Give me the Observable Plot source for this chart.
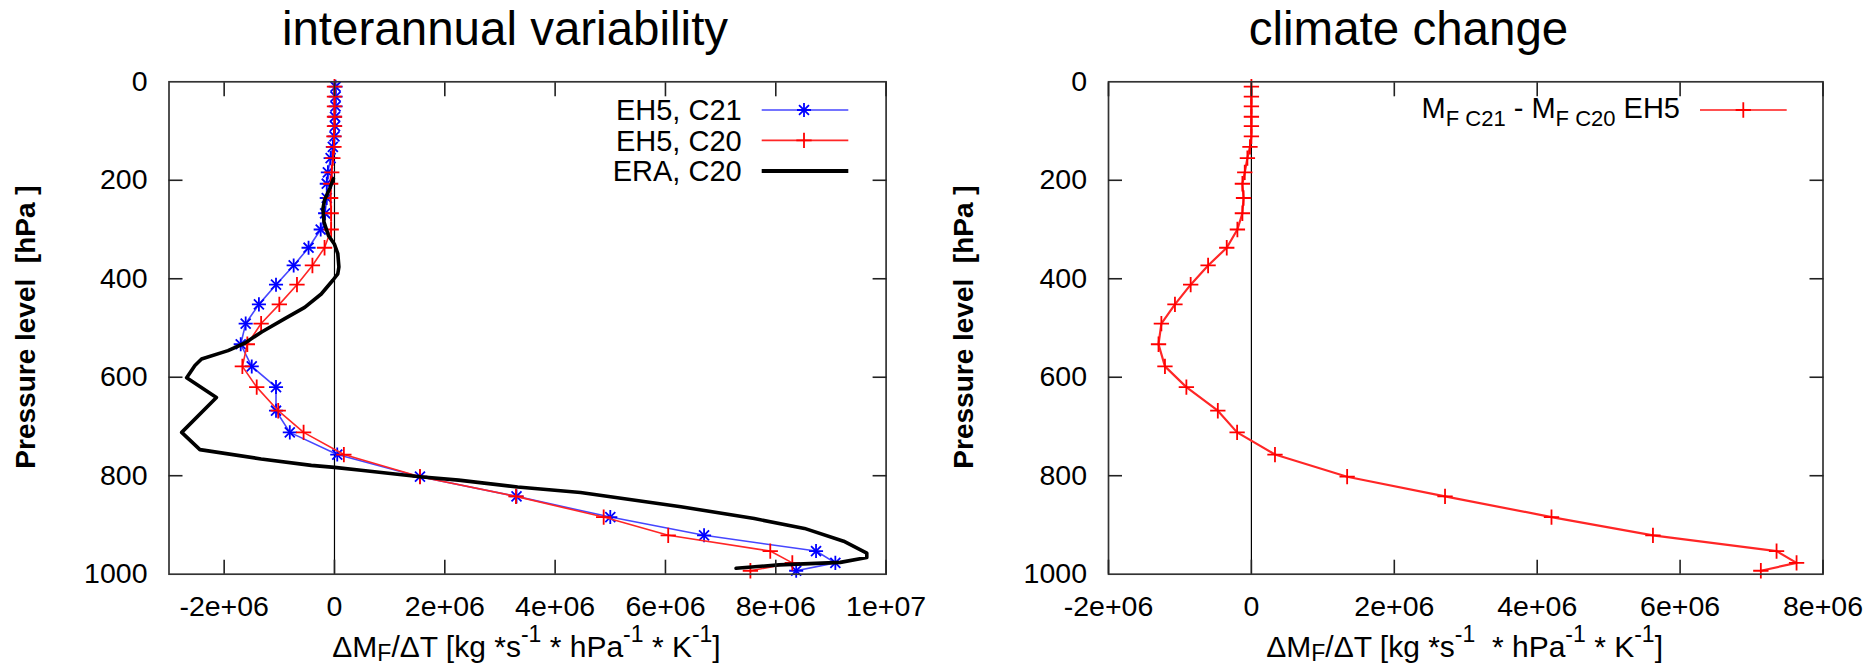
<!DOCTYPE html>
<html>
<head>
<meta charset="utf-8">
<script src="https://cdn.jsdelivr.net/npm/d3@7"></script>
<script src="https://cdn.jsdelivr.net/npm/@observablehq/plot@0.6"></script>
<style>
  html, body { margin: 0; padding: 0; background: #fff; }
  #wrap { position: relative; width: 1874px; height: 668px; overflow: hidden; background: #fff; }
</style>
</head>
<body>
<div id="wrap"></div>
<script>
// ---------------- data ----------------
// EH5 model levels (hPa)
const levels = [10, 30, 50, 71, 90, 111, 132, 155, 184, 207, 236, 267, 300, 337, 373, 412, 452, 491, 533, 578, 620, 668, 712, 757, 802, 842, 884, 921, 953, 977, 993];
// interannual variability, EH5 C21
const eh5C21 = [0.02e6, 0.02e6, 0.02e6, 0.01e6, 0.01e6, 0.0, -0.03e6, -0.07e6, -0.12e6, -0.14e6, -0.14e6, -0.17e6, -0.25e6, -0.47e6, -0.74e6, -1.06e6, -1.37e6, -1.61e6, -1.70e6, -1.50e6, -1.06e6, -1.06e6, -0.81e6, 0.05e6, 1.55e6, 3.30e6, 5.00e6, 6.70e6, 8.73e6, 9.08e6, 8.37e6];
// interannual variability, EH5 C20
const eh5C20 = [0.0, 0.0, 0.0, 0.0, 0.0, -0.01e6, -0.01e6, -0.03e6, -0.05e6, -0.07e6, -0.07e6, -0.06e6, -0.06e6, -0.18e6, -0.40e6, -0.68e6, -1.00e6, -1.33e6, -1.58e6, -1.67e6, -1.41e6, -1.02e6, -0.56e6, 0.17e6, 1.55e6, 3.29e6, 4.88e6, 6.05e6, 7.90e6, 8.30e6, 7.54e6];
// ERA, C20
const eraLevels = [197, 215, 240, 258, 285, 312, 330, 349, 376, 390, 403, 431, 458, 481, 508, 531, 546, 563, 576, 601, 641, 712, 747, 766, 779, 783, 789, 802, 809, 823, 834, 863, 887, 907, 933, 957, 966, 976, 981, 988];
const eraC20 = [-0.02e6, -0.08e6, -0.18e6, -0.21e6, -0.19e6, -0.11e6, 0.0, 0.06e6, 0.08e6, 0.06e6, -0.03e6, -0.24e6, -0.54e6, -0.90e6, -1.32e6, -1.63e6, -1.93e6, -2.41e6, -2.53e6, -2.68e6, -2.14e6, -2.77e6, -2.44e6, -1.33e6, -0.42e6, 0.0, 0.48e6, 1.55e6, 2.25e6, 3.32e6, 4.46e6, 6.28e6, 7.61e6, 8.52e6, 9.23e6, 9.65e6, 9.65e6, 9.17e6, 8.06e6, 7.28e6];
// climate change: M_F C21 - M_F C20, EH5
const ccDiff = [0.0, 0.0, 0.0, 0.0, 0.0, 0.0, -0.02e6, -0.056e6, -0.093e6, -0.126e6, -0.11e6, -0.126e6, -0.196e6, -0.345e6, -0.606e6, -0.85e6, -1.07e6, -1.26e6, -1.30e6, -1.21e6, -0.91e6, -0.47e6, -0.20e6, 0.33e6, 1.34e6, 2.71e6, 4.20e6, 5.62e6, 7.35e6, 7.63e6, 7.13e6];

// ticks
const yTicks = [0, 200, 400, 600, 800, 1000];
const yTickLabels = ["0", "200", "400", "600", "800", "1000"];
const xTicksLeft = [-2e6, 0, 2e6, 4e6, 6e6, 8e6, 1e7];
const xTickLabelsLeft = ["-2e+06", "0", "2e+06", "4e+06", "6e+06", "8e+06", "1e+07"];
const xTicksRight = [-2e6, 0, 2e6, 4e6, 6e6, 8e6];
const xTickLabelsRight = ["-2e+06", "0", "2e+06", "4e+06", "6e+06", "8e+06"];

// text
const titleLeft = "interannual variability";
const titleRight = "climate change";
const yLabel = "Pressure level  [hPa ]";
const legendLeft = ["EH5, C21", "EH5, C20", "ERA, C20"];

// ---------------- build ----------------
const FONT = "'Liberation Sans', Arial, Helvetica, sans-serif";
const BLUE_LINE = "#4646ff", BLUE = "#0000ff", RED = "#ff0000", RED_LINE = "#ff2626";
const wrap = document.getElementById("wrap");

const rows = (ps, vs) => ps.map((p, i) => ({p, v: vs[i]}));
const c21 = rows(levels, eh5C21);
const c20 = rows(levels, eh5C20);
const era = rows(eraLevels, eraC20);
const cc = rows(levels, ccDiff);

function panel({x0, width, mL, mR, xDomain, xTicks, xTickLabels, marks}) {
  const fmtX = d => xTickLabels[xTicks.indexOf(d)];
  const fmtY = d => yTickLabels[yTicks.indexOf(d)];
  const inner = yTicks.slice(1, -1);
  const blank = () => "";
  const plot = Plot.plot({
    width, height: 668,
    marginLeft: mL, marginRight: mR, marginTop: 81.3, marginBottom: 94.3,
    style: {fontFamily: FONT, fontSize: "28.5px", color: "#000", background: "transparent", overflow: "visible"},
    x: {domain: xDomain, label: null},
    y: {domain: [0, 1000], reverse: true, label: null},
    marks: [
      Plot.ruleX([0], {stroke: "#000", strokeWidth: 1.2}),
      ...marks,
      Plot.frame({stroke: "#333", strokeWidth: 1.7}),
      Plot.axisX({ticks: xTicks, anchor: "bottom", tickSize: 0, tickPadding: 22, tickFormat: fmtX, label: null, fontSize: 28.5}),
      Plot.axisX({ticks: xTicks, anchor: "bottom", tickSize: -14, tickFormat: blank, label: null, strokeWidth: 1.6, stroke: "#222"}),
      Plot.axisX({ticks: xTicks, anchor: "top", tickSize: -14, tickFormat: blank, label: null, strokeWidth: 1.6, stroke: "#222"}),
      Plot.axisY({ticks: yTicks, anchor: "left", tickSize: 0, tickPadding: 21.5, tickFormat: fmtY, label: null, fontSize: 28.5}),
      Plot.axisY({ticks: inner, anchor: "left", tickSize: -14, tickFormat: blank, label: null, strokeWidth: 1.6, stroke: "#222"}),
      Plot.axisY({ticks: inner, anchor: "right", tickSize: -14, tickFormat: blank, label: null, strokeWidth: 1.6, stroke: "#222"})
    ]
  });
  plot.style.position = "absolute";
  plot.style.left = x0 + "px";
  plot.style.top = "0px";
  wrap.appendChild(plot);
}

panel({
  x0: 0, width: 937, mL: 168.5, mR: 51.4,
  xDomain: [-3e6, 1e7], xTicks: xTicksLeft, xTickLabels: xTickLabelsLeft,
  marks: [
    Plot.line(c21, {x: "v", y: "p", stroke: BLUE_LINE, strokeWidth: 1.6}),
    Plot.dot(c21, {x: "v", y: "p", symbol: "plus", r: 4.6, stroke: BLUE, strokeWidth: 1.8}),
    Plot.dot(c21, {x: "v", y: "p", symbol: "times", r: 4.6, stroke: BLUE, strokeWidth: 1.8}),
    Plot.line(c20, {x: "v", y: "p", stroke: RED_LINE, strokeWidth: 1.6}),
    Plot.dot(c20, {x: "v", y: "p", symbol: "plus", r: 5, stroke: RED, strokeWidth: 1.8}),
    Plot.line(era, {x: "v", y: "p", stroke: "#000", strokeWidth: 3.6, strokeLinejoin: "round"})
  ]
});

panel({
  x0: 937, width: 937, mL: 171, mR: 51.5,
  xDomain: [-2e6, 8e6], xTicks: xTicksRight, xTickLabels: xTickLabelsRight,
  marks: [
    Plot.line(cc, {x: "v", y: "p", stroke: RED_LINE, strokeWidth: 2.2}),
    Plot.dot(cc, {x: "v", y: "p", symbol: "plus", r: 5, stroke: RED, strokeWidth: 1.8})
  ]
});

// ---------------- overlay: titles, axis labels, legends ----------------
const ov = d3.select(wrap).append("svg")
  .attr("width", 1874).attr("height", 668)
  .style("position", "absolute").style("left", "0px").style("top", "0px")
  .attr("font-family", FONT);

function richText(x, y, parts, {size, small = size, sub = 0, sup = 0, anchor = "middle", weight = "normal", transform = null}) {
  const t = ov.append("text").attr("x", x).attr("y", y)
    .attr("text-anchor", anchor).attr("font-size", size).attr("font-weight", weight)
    .attr("fill", "#000").style("white-space", "pre");
  if (transform) t.attr("transform", transform);
  let level = 0;
  for (const [s, kind] of parts) {
    const target = kind === "sub" ? sub : kind === "sup" ? -sup : 0;
    t.append("tspan").attr("dy", target - level).attr("font-size", kind ? small : size).text(s);
    level = target;
  }
}

// titles
richText(505, 45, [[titleLeft]], {size: 47.5});
richText(1408.5, 45, [[titleRight]], {size: 47.5});

// y labels
richText(0, 0, [[yLabel]], {size: 28, weight: "bold", transform: "translate(35,327) rotate(-90)"});
richText(0, 0, [[yLabel]], {size: 28, weight: "bold", transform: "translate(973,327) rotate(-90)"});

// x labels
const xlab = {size: 30, small: 23, sub: 4, sup: 15};
richText(526.5, 657, [["ΔM"], ["F", "sub"], ["/ΔT [kg *s"], ["-1", "sup"], [" * hPa"], ["-1", "sup"], [" * K"], ["-1", "sup"], ["]"]], xlab);
richText(1464.6, 657, [["ΔM"], ["F", "sub"], ["/ΔT [kg *s"], ["-1", "sup"], ["  * hPa"], ["-1", "sup"], [" * K"], ["-1", "sup"], ["]"]], xlab);

// left legend
const sym = (type, r) => d3.symbol().type(type).size(Math.PI * r * r)();
const legRows = [
  {y: 110, color: BLUE_LINE, mark: BLUE, w: 1.6, syms: [d3.symbolPlus, d3.symbolTimes]},
  {y: 140.4, color: RED_LINE, mark: RED, w: 1.6, syms: [d3.symbolPlus]},
  {y: 171, color: "#000", mark: "#000", w: 3.8, syms: []}
];
legRows.forEach((row, i) => {
  richText(741.7, row.y + 10.3, [[legendLeft[i]]], {size: 29, anchor: "end"});
  ov.append("line").attr("x1", 761.7).attr("x2", 848.3).attr("y1", row.y).attr("y2", row.y)
    .attr("stroke", row.color).attr("stroke-width", row.w);
  row.syms.forEach(s => ov.append("path").attr("d", sym(s, s === d3.symbolPlus && row.syms.length === 1 ? 5 : 4.6))
    .attr("transform", `translate(804,${row.y})`).attr("fill", "none").attr("stroke", row.mark).attr("stroke-width", 1.8));
});

// right legend
richText(1680, 118.3, [["M"], ["F C21", "sub"], [" - M"], ["F C20", "sub"], [" EH5"]], {size: 29, small: 22, sub: 7.4, anchor: "end"});
ov.append("line").attr("x1", 1700).attr("x2", 1786.7).attr("y1", 110).attr("y2", 110)
  .attr("stroke", RED_LINE).attr("stroke-width", 2.2).attr("stroke-opacity", 0.8);
ov.append("path").attr("d", sym(d3.symbolPlus, 5)).attr("transform", "translate(1743.3,110)")
  .attr("fill", "none").attr("stroke", RED).attr("stroke-width", 1.8);
</script>
</body>
</html>
